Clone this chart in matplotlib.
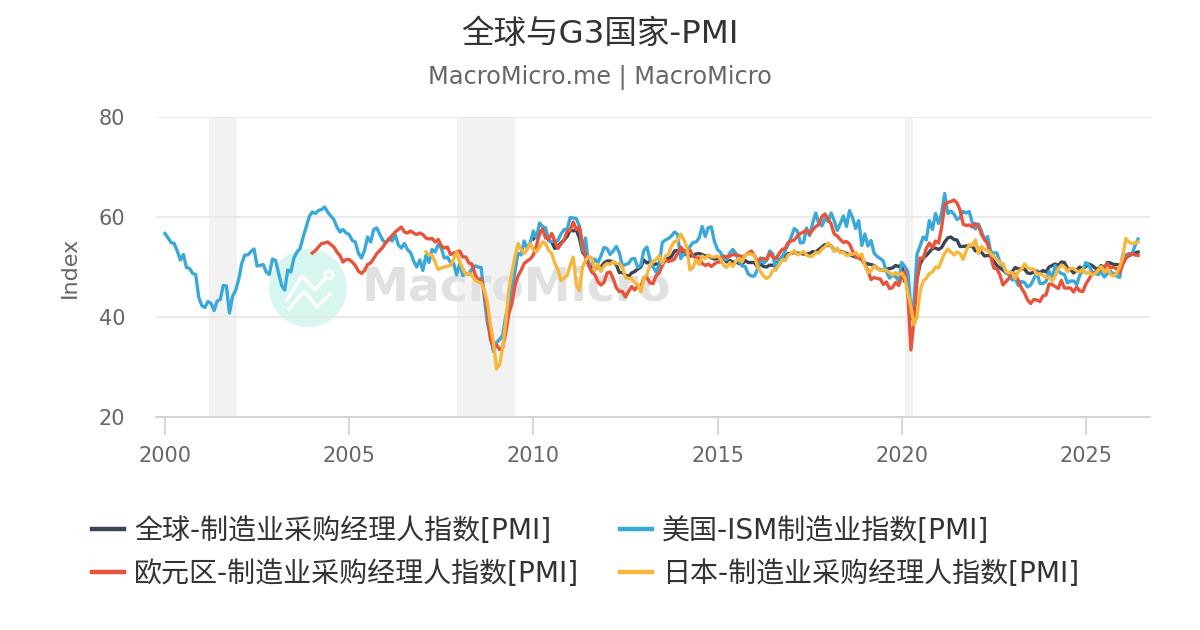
import numpy as np
import matplotlib
matplotlib.use("Agg")
import matplotlib.pyplot as plt
from matplotlib.patches import Ellipse
from matplotlib.lines import Line2D

plt.rcParams['font.family'] = ['DejaVu Sans', 'Noto Sans CJK SC']

# ---------------- data (monthly) ----------------
title = "全球与G3国家-PMI"
subtitle = "MacroMicro.me | MacroMicro"
y_label = "Index"
labels = ["全球-制造业采购经理人指数[PMI]", "美国-ISM制造业指数[PMI]",
          "欧元区-制造业采购经理人指数[PMI]", "日本-制造业采购经理人指数[PMI]"]

us_start = 2000.0
us_ism = [
    56.7, 55.8, 54.9, 54.7, 53.2, 51.4, 52.5, 49.9, 49.7, 48.7, 48.5, 43.9,
    42.3, 41.9, 43.1, 42.7, 41.3, 43.2, 43.5, 46.3, 46.2, 40.8, 44.1, 45.3,
    47.5, 50.7, 52.4, 52.4, 53.1, 53.6, 50.2, 50.3, 50.5, 49.0, 48.5, 51.6,
    51.3, 48.8, 46.3, 45.4, 49.4, 49.0, 51.8, 53.0, 53.7, 56.0, 58.0, 60.1,
    61.0, 60.7, 61.3, 61.5, 62.0, 61.0, 60.2, 59.5, 58.0, 57.0, 57.5, 56.8,
    56.5, 55.3, 55.0, 52.8, 51.8, 53.3, 56.0, 55.0, 57.5, 57.8, 56.5, 55.3,
    54.8, 55.8, 55.2, 56.5, 54.4, 53.8, 54.7, 53.5, 52.9, 51.2, 50.0, 51.4,
    49.3, 52.3, 50.9, 53.5, 53.0, 54.5, 53.8, 51.8, 52.0, 50.9, 50.8, 48.4,
    50.7, 48.3, 48.6, 48.6, 49.6, 50.2, 50.0, 49.9, 44.0, 38.9, 36.2, 33.1,
    34.9, 35.5, 36.3, 40.1, 42.8, 45.3, 49.1, 52.8, 52.4, 55.2, 53.7, 54.9,
    57.2, 55.8, 58.8, 58.1, 57.8, 55.3, 55.1, 55.2, 55.3, 56.6, 57.5, 57.5,
    59.9, 59.8, 59.7, 58.2, 53.2, 55.8, 50.3, 50.6, 51.6, 50.8, 52.2, 53.9,
    53.7, 52.5, 53.2, 54.1, 52.9, 50.2, 50.5, 50.7, 51.6, 51.7, 49.9, 50.4,
    53.3, 54.0, 51.5, 50.0, 49.0, 50.4, 54.9, 55.4, 55.7, 56.2, 57.0, 56.5,
    51.7, 52.5, 53.4, 54.1, 54.9, 55.0, 55.8, 58.1, 56.1, 57.9, 58.0, 55.1,
    53.5, 52.9, 51.5, 51.5, 52.8, 53.5, 52.7, 51.1, 50.2, 50.1, 48.6, 48.2,
    48.2, 49.5, 51.8, 50.8, 51.3, 53.2, 52.6, 49.4, 51.5, 51.9, 53.2, 54.5,
    56.0, 57.7, 57.2, 54.8, 54.9, 57.8, 56.3, 58.8, 60.8, 58.7, 58.2, 59.7,
    59.1, 60.8, 59.3, 57.3, 58.7, 60.2, 58.1, 61.3, 59.8, 57.7, 59.3, 54.3,
    56.6, 54.2, 55.3, 52.8, 52.1, 51.7, 51.2, 49.1, 47.8, 48.3, 48.1, 47.2,
    50.9, 50.1, 49.1, 41.5, 43.1, 52.6, 54.2, 56.0, 55.4, 59.3, 57.5, 60.7,
    58.7, 60.8, 64.7, 60.7, 61.2, 60.6, 59.5, 59.9, 61.1, 60.8, 61.1, 58.8,
    57.6, 58.6, 57.1, 55.4, 56.1, 53.0, 52.8, 52.8, 50.9, 50.2, 49.0, 48.4,
    47.4, 47.7, 46.3, 47.1, 46.9, 46.0, 46.4, 47.6, 49.0, 46.7, 46.7, 47.1,
    49.1, 47.8, 50.3, 49.2, 48.7, 48.5, 46.8, 47.2, 47.2, 46.5, 48.4, 49.3,
    50.9, 50.3, 49.0, 48.7, 48.5, 49.0, 48.0, 48.7, 49.1, 48.7, 48.2, 47.9,
    52.6, 52.4, 52.7, 52.5, 54.3, 55.6,
]

euro_start = 2004.0
euro_pmi = [
    52.8, 53.3, 54.0, 54.7, 54.8, 55.0, 54.5, 54.0, 53.0, 52.3, 51.0, 51.5,
    51.5, 51.0, 50.3, 49.2, 48.7, 49.3, 50.5, 50.8, 51.7, 52.7, 53.3, 54.0,
    55.0, 55.5, 56.3, 57.0, 57.5, 58.0, 57.0, 56.8, 57.2, 56.8, 56.5, 56.8,
    56.5, 55.8, 55.6, 55.7, 55.0, 55.5, 54.2, 53.8, 54.0, 52.5, 52.8, 53.0,
    53.2, 52.0, 52.0, 50.8, 50.6, 48.5, 47.4, 47.6, 45.0, 41.1, 35.6, 33.9,
    34.4, 33.5, 33.9, 36.8, 40.7, 42.6, 46.3, 48.2, 49.3, 50.7, 51.2, 51.6,
    52.4, 54.2, 56.6, 57.6, 55.8, 55.6, 56.7, 55.1, 53.7, 54.6, 55.3, 57.1,
    57.3, 59.0, 57.5, 58.0, 54.6, 52.0, 50.4, 49.0, 48.5, 47.1, 46.4, 46.9,
    48.8, 49.0, 47.7, 45.9, 45.1, 45.1, 44.0, 45.1, 46.1, 45.4, 46.2, 46.1,
    47.9, 47.9, 46.8, 46.7, 48.3, 48.8, 50.3, 51.4, 51.1, 51.3, 51.6, 52.7,
    54.0, 53.2, 53.0, 53.4, 52.2, 51.8, 51.8, 50.7, 50.3, 50.6, 50.1, 50.6,
    51.0, 51.0, 52.2, 52.0, 52.2, 52.5, 52.4, 52.3, 52.0, 52.3, 52.8, 53.2,
    52.3, 51.2, 51.6, 51.7, 51.5, 52.8, 52.0, 51.7, 52.6, 53.5, 53.7, 54.9,
    55.2, 55.4, 56.2, 56.7, 57.0, 57.4, 56.6, 57.4, 58.1, 58.5, 60.1, 60.6,
    59.6, 58.6, 56.6, 56.2, 55.5, 54.9, 55.1, 54.6, 53.2, 52.0, 51.8, 51.4,
    50.5, 49.3, 47.5, 47.9, 47.7, 47.6, 46.5, 47.0, 45.7, 45.9, 46.9, 46.3,
    47.9, 49.2, 44.5, 33.4, 39.4, 47.4, 51.8, 51.7, 53.7, 54.8, 53.8, 55.2,
    54.8, 57.9, 62.5, 62.9, 63.1, 63.4, 62.8, 61.4, 58.6, 58.3, 58.4, 58.0,
    58.7, 58.2, 56.5, 55.5, 54.6, 52.1, 49.8, 49.6, 48.4, 46.4, 47.1, 47.8,
    48.8, 48.5, 47.3, 45.8, 44.8, 43.4, 42.7, 43.5, 43.4, 43.1, 44.2, 44.4,
    46.6, 46.5, 46.1, 45.7, 47.3, 45.8, 45.8, 45.8, 45.0, 46.0, 45.2, 45.1,
    46.6, 47.6, 48.6, 49.0, 49.4, 49.5, 49.8, 50.7, 49.8, 50.0, 49.6, 48.8,
    50.5, 51.8, 52.5, 52.7, 52.4, 52.3,
]

japan_start = 2007 + 1 / 12
japan_pmi = [
    53.0, 52.6, 52.3, 51.0, 49.5, 49.8, 50.0, 50.2, 50.3, 51.5, 53.0,
    51.0, 49.7, 48.5, 48.7, 48.3, 47.5, 47.0, 46.8, 45.5, 43.0, 38.5, 35.0,
    29.6, 30.5, 33.8, 39.0, 45.3, 49.0, 52.0, 54.7, 53.5, 52.7, 53.5, 54.7,
    53.5, 53.0, 54.0, 55.0, 54.7, 53.3, 52.7, 50.7, 49.5, 47.3, 47.8, 48.3,
    50.3, 52.0, 46.4, 45.3, 50.0, 51.3, 52.1, 51.9, 49.3, 50.6, 49.1, 50.2,
    50.7, 50.5, 51.1, 50.7, 50.7, 49.9, 47.9, 47.7, 47.7, 46.9, 46.5, 45.0,
    47.7, 48.5, 50.4, 51.1, 51.5, 52.3, 50.7, 52.2, 52.5, 54.2, 55.1, 55.2,
    56.6, 55.5, 53.9, 49.4, 49.9, 51.5, 50.5, 52.2, 51.7, 52.4, 52.0, 52.0,
    52.2, 51.6, 50.3, 49.9, 50.9, 50.1, 51.2, 51.7, 51.0, 52.4, 52.6, 52.6,
    52.3, 50.1, 49.1, 48.2, 47.7, 48.1, 49.3, 49.5, 50.4, 51.4, 51.3, 52.4,
    52.7, 53.3, 52.4, 52.7, 53.1, 52.4, 52.1, 52.2, 52.9, 52.8, 53.6, 54.0,
    54.8, 54.1, 53.1, 53.8, 52.8, 53.0, 52.3, 52.5, 52.5, 52.9, 52.2, 52.6,
    50.3, 48.9, 49.2, 50.2, 49.8, 49.3, 49.4, 49.3, 48.9, 48.4, 48.9, 48.4,
    48.8, 47.8, 44.8, 41.9, 38.4, 40.1, 45.2, 47.2, 47.7, 48.7, 49.0, 50.0,
    49.8, 51.4, 52.7, 53.6, 53.0, 52.4, 53.0, 52.7, 51.5, 53.2, 54.5, 54.3,
    55.4, 52.7, 54.1, 53.5, 53.3, 52.7, 52.1, 51.5, 50.8, 50.7, 49.0, 48.9,
    48.9, 47.7, 49.2, 49.5, 50.6, 49.8, 49.6, 49.6, 48.5, 48.7, 48.3, 47.9,
    48.0, 47.2, 48.2, 49.6, 50.4, 50.0, 49.1, 49.8, 49.7, 49.2, 49.0, 49.6,
    48.7, 49.0, 48.4, 48.7, 49.4, 50.1, 48.9, 49.7, 48.5, 48.2, 48.7, 50.0,
    52.0, 55.7, 55.0, 54.7, 54.8, 55.0,
]

global_start = 2010.0
global_pmi = [
    55.6, 56.3, 57.0, 57.2, 57.0, 55.3, 55.0, 53.7, 54.2, 54.8, 55.4, 56.1,
    57.4, 57.2, 57.4, 55.8, 53.0, 52.2, 50.7, 50.1, 49.9, 49.8, 50.0, 50.8,
    51.2, 51.2, 51.1, 50.5, 48.9, 48.9, 48.4, 48.1, 48.8, 49.1, 49.6, 50.0,
    51.4, 50.8, 51.1, 50.4, 50.6, 50.6, 50.8, 51.7, 51.7, 52.1, 53.2, 53.3,
    52.9, 53.2, 52.4, 52.2, 52.3, 52.6, 52.7, 52.5, 52.2, 52.2, 51.8, 51.6,
    51.7, 51.9, 51.6, 51.0, 51.3, 51.0, 51.0, 50.7, 50.6, 51.3, 50.9, 50.9,
    50.9, 50.0, 50.6, 50.1, 50.0, 50.4, 50.3, 50.9, 51.0, 52.0, 52.1, 52.7,
    52.7, 52.9, 52.8, 52.7, 52.6, 52.6, 52.7, 53.1, 52.9, 53.5, 54.0, 54.5,
    54.4, 54.2, 53.3, 53.5, 53.1, 53.0, 52.7, 52.5, 52.2, 52.0, 52.0, 51.5,
    50.8, 50.6, 50.5, 50.3, 49.8, 49.4, 49.3, 49.5, 49.7, 49.8, 50.3, 50.1,
    50.4, 47.1, 47.6, 39.6, 42.4, 47.8, 50.6, 51.8, 52.3, 53.0, 53.7, 53.8,
    53.5, 53.9, 55.0, 55.8, 56.0, 55.5, 55.4, 54.1, 54.1, 54.2, 54.2, 54.2,
    53.2, 53.7, 52.9, 52.2, 52.3, 52.2, 51.1, 50.3, 49.8, 49.4, 48.8, 48.6,
    49.1, 49.9, 49.6, 49.6, 49.6, 48.8, 48.7, 49.0, 49.2, 48.8, 49.3, 49.0,
    50.0, 50.3, 50.6, 50.3, 51.0, 50.9, 49.7, 49.5, 48.8, 49.4, 50.0, 49.6,
    50.1, 50.6, 50.3, 49.8, 49.5, 50.3, 49.7, 50.9, 50.8, 50.5, 50.5, 50.4,
    51.0, 51.8, 52.3, 52.5, 52.8, 53.0,
]

recessions = [(2001.2, 2001.95), (2007.93, 2009.5), (2020.09, 2020.3)]
year_ticks = [2000, 2005, 2010, 2015, 2020, 2025]
y_ticks = [20, 40, 60, 80]

colors = {"global": "#3a4556", "us": "#3aa9d9", "euro": "#e8533a", "japan": "#f6b73c"}

# ---------------- figure ----------------
fig = plt.figure(figsize=(12, 6.3), dpi=100)
ax = fig.add_axes([156 / 1200, 1 - 417 / 630, (1150 - 156) / 1200, 300 / 630])

ax.set_xlim(1999.756, 2026.74)
ax.set_ylim(20, 80)

for a, b in recessions:
    ax.axvspan(a, b, color="#f2f2f2", zorder=0, lw=0)

# watermark
ax.add_patch(Ellipse((308 / 1200, 1 - 288 / 630), 78 / 1200, 78 / 630,
                     transform=fig.transFigure, color="#d6f6ef", zorder=0.5, lw=0))
wx = np.array([287, 302, 315, 327]) / 1200
wy = 1 - np.array([300, 276, 290, 277]) / 630
ax.add_line(Line2D(wx, wy, transform=fig.transFigure, color="white", lw=2.5, zorder=0.6))
wx2 = np.array([289, 304, 317, 330]) / 1200
wy2 = 1 - np.array([309, 291, 307, 294]) / 630
ax.add_line(Line2D(wx2, wy2, transform=fig.transFigure, color="white", lw=2.5, zorder=0.6))
ax.add_patch(Ellipse((329 / 1200, 1 - 275 / 630), 8 / 1200, 8 / 630, transform=fig.transFigure,
                     facecolor="#d6f6ef", edgecolor="white", lw=2, zorder=0.7))
ax.text(362 / 1200, 1 - 288 / 630, "MacroMicro", transform=fig.transFigure,
        fontsize=34, fontweight="bold", color="#e1e1e1", va="center", ha="left", zorder=0.5)

def xs(start, vals):
    return start + np.arange(len(vals)) / 12.0

lw = 2.4
l_g, = ax.plot(xs(global_start, global_pmi), global_pmi, color=colors["global"], lw=lw, zorder=2)
l_u, = ax.plot(xs(us_start, us_ism), us_ism, color=colors["us"], lw=lw, zorder=2.1)
l_e, = ax.plot(xs(euro_start, euro_pmi), euro_pmi, color=colors["euro"], lw=lw, zorder=2.2)
l_j, = ax.plot(xs(japan_start, japan_pmi), japan_pmi, color=colors["japan"], lw=lw, zorder=2.3)

ax.set_yticks(y_ticks)
ax.set_xticks(year_ticks)
ax.set_xticklabels([str(y) for y in year_ticks])
ax.yaxis.grid(True, color="#e6e6e6", lw=1.2, zorder=1)
ax.set_axisbelow(True)
for s in ["top", "right", "left"]:
    ax.spines[s].set_visible(False)
ax.spines["bottom"].set_color("#d0d0d0")
ax.spines["bottom"].set_linewidth(1.2)
ax.tick_params(axis="y", length=0, pad=22, labelsize=15, labelcolor="#666666")
ax.tick_params(axis="x", length=13, width=1.2, color="#d0d0d0", pad=8, labelsize=15, labelcolor="#666666")
ax.set_ylabel(y_label, fontsize=16, color="#666666", labelpad=14)

fig.text(0.5, 1 - 34 / 630, title, ha="center", va="center", fontsize=23.4, color="#333333")
fig.text(0.5, 1 - 78 / 630, subtitle, ha="center", va="center", fontsize=17.3, color="#666666")

leg = fig.legend([l_g, l_e, l_u, l_j], [labels[0], labels[2], labels[1], labels[3]],
                 ncol=2, loc="upper left", bbox_to_anchor=(92 / 1200, 1 - 517 / 630),
                 frameon=False, fontsize=20.2, handlelength=1.15, handletextpad=0.35,
                 columnspacing=1.45, labelspacing=0.54, borderpad=0, borderaxespad=0)
for t in leg.get_texts():
    t.set_color("#333333")
for h in leg.legend_handles:
    h.set_linewidth(3.2)

fig.savefig("out.png", dpi=100)
